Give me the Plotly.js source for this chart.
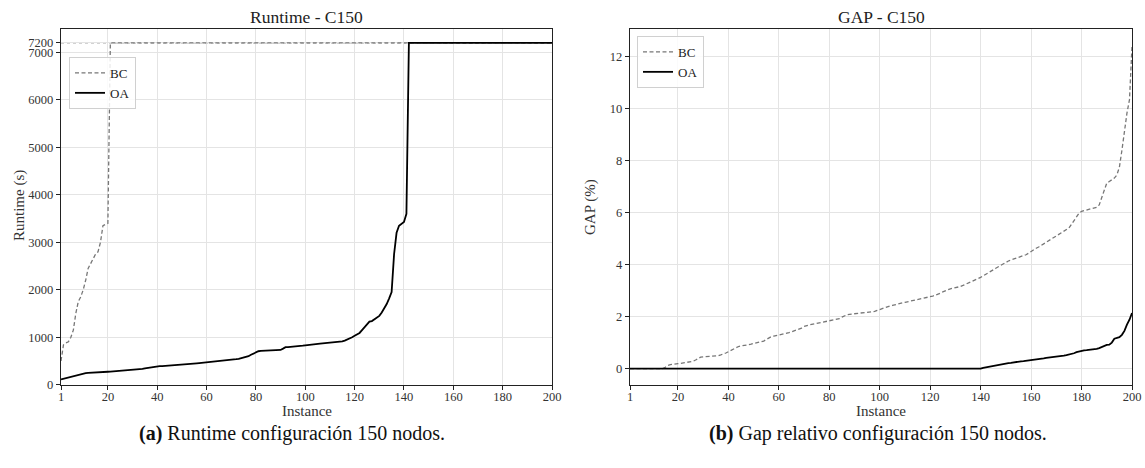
<!DOCTYPE html>
<html><head><meta charset="utf-8">
<script src="https://cdn.plot.ly/plotly-3.0.1.min.js"></script>
<style>html,body{margin:0;padding:0;background:#fff}</style>
</head><body><div id="chart" style="width:1145px;height:468px"></div>
<script>
// ---- data (instance 1..200) ----
const seriesNames = ['BC', 'OA'];
const xTickVals = [1, 20, 40, 60, 80, 100, 120, 140, 160, 180, 200];
const runtimeTickVals = [0, 1000, 2000, 3000, 4000, 5000, 6000, 7000, 7200];
const gapTickVals = [0, 2, 4, 6, 8, 10, 12];
const timeLimit = 7200;

const bcRuntime = [
500,840,880,905,1000,1150,1500,1750,1850,2000,
2200,2450,2550,2650,2750,2800,3000,3350,3380,3400,
7200,7200,7200,7200,7200,7200,7200,7200,7200,7200,
7200,7200,7200,7200,7200,7200,7200,7200,7200,7200,
7200,7200,7200,7200,7200,7200,7200,7200,7200,7200,
7200,7200,7200,7200,7200,7200,7200,7200,7200,7200,
7200,7200,7200,7200,7200,7200,7200,7200,7200,7200,
7200,7200,7200,7200,7200,7200,7200,7200,7200,7200,
7200,7200,7200,7200,7200,7200,7200,7200,7200,7200,
7200,7200,7200,7200,7200,7200,7200,7200,7200,7200,
7200,7200,7200,7200,7200,7200,7200,7200,7200,7200,
7200,7200,7200,7200,7200,7200,7200,7200,7200,7200,
7200,7200,7200,7200,7200,7200,7200,7200,7200,7200,
7200,7200,7200,7200,7200,7200,7200,7200,7200,7200,
7200,7200,7200,7200,7200,7200,7200,7200,7200,7200,
7200,7200,7200,7200,7200,7200,7200,7200,7200,7200,
7200,7200,7200,7200,7200,7200,7200,7200,7200,7200,
7200,7200,7200,7200,7200,7200,7200,7200,7200,7200,
7200,7200,7200,7200,7200,7200,7200,7200,7200,7200,
7200,7200,7200,7200,7200,7200,7200,7200,7200,7200];

const oaRuntime = [
110,125,140,155,170,185,200,215,228,240,
245,250,255,258,262,265,267,269,271,273,
276,280,285,288,291,294,297,300,303,306,
310,315,325,335,345,355,362,370,378,385,
390,393,396,398,400,403,406,410,415,420,
425,430,435,440,445,450,455,460,465,470,
473,476,479,483,488,493,500,507,515,523,
530,537,545,555,565,580,600,630,660,690,
705,712,716,718,720,722,724,726,728,732,
760,790,793,796,799,802,808,815,822,830,
838,845,850,855,860,865,870,875,880,885,
890,895,900,905,915,930,950,975,1000,1030,
1060,1090,1150,1210,1280,1330,1340,1380,1410,1450,
1520,1600,1700,1820,1950,2750,3200,3350,3390,3430,
3600,7200,7200,7200,7200,7200,7200,7200,7200,7200,
7200,7200,7200,7200,7200,7200,7200,7200,7200,7200,
7200,7200,7200,7200,7200,7200,7200,7200,7200,7200,
7200,7200,7200,7200,7200,7200,7200,7200,7200,7200,
7200,7200,7200,7200,7200,7200,7200,7200,7200,7200,
7200,7200,7200,7200,7200,7200,7200,7200,7200,7200];

const bcGap = [
0,0,0,0,0,0,0,0,0,0,
0,0,0,0,0.05,0.12,0.15,0.17,0.18,0.19,
0.2,0.22,0.23,0.24,0.26,0.28,0.33,0.4,0.44,0.45,
0.46,0.46,0.47,0.47,0.48,0.5,0.53,0.56,0.6,0.65,
0.7,0.77,0.83,0.85,0.87,0.88,0.9,0.92,0.94,0.96,
0.98,1.0,1.03,1.06,1.12,1.18,1.23,1.25,1.27,1.29,
1.3,1.32,1.35,1.38,1.41,1.44,1.47,1.5,1.56,1.62,
1.66,1.68,1.7,1.72,1.75,1.78,1.8,1.82,1.84,1.86,
1.87,1.88,1.9,1.92,1.98,2.04,2.07,2.09,2.1,2.11,
2.12,2.12,2.13,2.14,2.15,2.16,2.18,2.2,2.24,2.28,
2.32,2.35,2.38,2.41,2.43,2.46,2.49,2.51,2.53,2.55,
2.57,2.59,2.61,2.63,2.65,2.67,2.7,2.72,2.74,2.76,
2.79,2.82,2.85,2.9,2.95,3.0,3.04,3.07,3.09,3.11,
3.13,3.16,3.2,3.24,3.28,3.32,3.36,3.4,3.45,3.51,
3.57,3.62,3.68,3.74,3.8,3.86,3.92,3.98,4.04,4.1,
4.14,4.18,4.22,4.25,4.28,4.31,4.35,4.38,4.45,4.52,
4.58,4.63,4.68,4.74,4.8,4.86,4.92,4.98,5.04,5.1,
5.15,5.2,5.27,5.34,5.41,5.55,5.7,5.85,5.98,6.05,
6.08,6.1,6.12,6.15,6.18,6.21,6.3,6.56,6.9,7.14,
7.2,7.26,7.33,7.45,7.75,8.4,9.2,9.83,10.35,12.4];

const oaGap = [
0,0,0,0,0,0,0,0,0,0,
0,0,0,0,0,0,0,0,0,0,
0,0,0,0,0,0,0,0,0,0,
0,0,0,0,0,0,0,0,0,0,
0,0,0,0,0,0,0,0,0,0,
0,0,0,0,0,0,0,0,0,0,
0,0,0,0,0,0,0,0,0,0,
0,0,0,0,0,0,0,0,0,0,
0,0,0,0,0,0,0,0,0,0,
0,0,0,0,0,0,0,0,0,0,
0,0,0,0,0,0,0,0,0,0,
0,0,0,0,0,0,0,0,0,0,
0,0,0,0,0,0,0,0,0,0,
0,0,0,0,0,0,0,0,0,0,
0.03,0.05,0.06,0.08,0.09,0.11,0.13,0.16,0.18,0.2,
0.21,0.22,0.24,0.26,0.27,0.28,0.29,0.3,0.31,0.32,
0.33,0.34,0.36,0.37,0.39,0.41,0.42,0.43,0.44,0.45,
0.46,0.48,0.5,0.52,0.54,0.56,0.59,0.63,0.66,0.69,
0.7,0.71,0.72,0.73,0.75,0.76,0.79,0.84,0.89,0.91,
0.92,1.0,1.15,1.19,1.21,1.3,1.45,1.69,1.88,2.14];

const instances = bcRuntime.map((_, i) => i + 1);

// ---- styling ----
const FONT = 'Liberation Serif, DejaVu Serif, serif';
const bcLine = {color: '#777777', width: 1.3, dash: '4px,2.5px'};
const oaLine = {color: '#000000', width: 1.8};

const traces = [
  {x: instances, y: bcRuntime, name: seriesNames[0], type: 'scatter', mode: 'lines', line: bcLine, xaxis: 'x', yaxis: 'y', legend: 'legend'},
  {x: instances, y: oaRuntime, name: seriesNames[1], type: 'scatter', mode: 'lines', line: oaLine, xaxis: 'x', yaxis: 'y', legend: 'legend'},
  {x: instances, y: bcGap, name: seriesNames[0], type: 'scatter', mode: 'lines', line: bcLine, xaxis: 'x2', yaxis: 'y2', legend: 'legend2'},
  {x: instances, y: oaGap, name: seriesNames[1], type: 'scatter', mode: 'lines', line: oaLine, xaxis: 'x2', yaxis: 'y2', legend: 'legend2'}
];

const W = 1145, H = 468;
const yDom = [(H - 384.7) / H, (H - 28.7) / H];
const axisCommon = {
  showline: true, mirror: true, linecolor: '#222', linewidth: 1.2,
  ticks: 'outside', ticklen: 4, tickwidth: 1, tickcolor: '#222',
  showgrid: true, gridcolor: '#e4e4e4', gridwidth: 1, zeroline: false,
  tickfont: {family: FONT, size: 12.5, color: '#333'}
};
// x axes: tick marks drawn as minor ticks at the same values so labels sit closer to the axis
const xAxisExtra = {
  ticks: '', ticklen: 0,
  minor: {tickvals: xTickVals, ticks: 'outside', ticklen: 4, tickwidth: 1, tickcolor: '#222', showgrid: false}
};

const legendCommon = {
  bgcolor: 'rgba(255,255,255,0.85)', bordercolor: '#d0d0d0', borderwidth: 1,
  font: {family: FONT, size: 13, color: '#222'}, xanchor: 'left', yanchor: 'top',
  tracegroupgap: 0, itemwidth: 30
};

const ann = (text, x, y, size, extra) => Object.assign({
  text: text, xref: 'paper', yref: 'paper', x: x / W, y: (H - y) / H,
  xanchor: 'center', yanchor: 'middle', showarrow: false,
  font: {family: FONT, size: size, color: '#222'}
}, extra || {});

const layout = {
  width: W, height: H,
  margin: {l: 0, r: 0, t: 0, b: 0},
  paper_bgcolor: '#fff', plot_bgcolor: '#fff',
  font: {family: FONT, color: '#222'},
  showlegend: true,
  xaxis: Object.assign({}, axisCommon, xAxisExtra, {
    domain: [61 / W, 552 / W], range: [1, 200], tickvals: xTickVals, anchor: 'y'
  }),
  yaxis: Object.assign({}, axisCommon, {
    domain: yDom, range: [0, 7500], tickvals: runtimeTickVals, anchor: 'x'
  }),
  xaxis2: Object.assign({}, axisCommon, xAxisExtra, {
    domain: [630 / W, 1132 / W], range: [1, 200], tickvals: xTickVals, anchor: 'y2'
  }),
  yaxis2: Object.assign({}, axisCommon, {
    domain: yDom, range: [-0.62, 13.08], tickvals: gapTickVals, anchor: 'x2'
  }),
  legend: Object.assign({}, legendCommon, {x: 69 / W, y: (H - 57) / H}),
  legend2: Object.assign({}, legendCommon, {x: 637 / W, y: (H - 36) / H}),
  shapes: [
    {type: 'line', xref: 'x', yref: 'y', x0: 1, x1: 200, y0: timeLimit, y1: timeLimit,
     line: {color: '#999', width: 1, dash: 'dot'}, layer: 'below'}
  ],
  annotations: [
    ann('Runtime - C150', 306.5, 17, 17.5),
    ann('GAP - C150', 881, 17, 17.5),
    ann('Instance', 306.5, 411, 15, {font: {family: FONT, size: 15, color: '#333'}}),
    ann('Instance', 881, 411, 15, {font: {family: FONT, size: 15, color: '#333'}}),
    ann('Runtime (s)', 19, 206, 15, {textangle: -90, font: {family: FONT, size: 15, color: '#333'}}),
    ann('GAP (%)', 590, 207, 15, {textangle: -90, font: {family: FONT, size: 15, color: '#333'}}),
    ann('<b>(a)</b> Runtime configuración 150 nodos.', 292, 433, 20, {font: {family: FONT, size: 20, color: '#111'}}),
    ann('<b>(b)</b> Gap relativo configuración 150 nodos.', 878, 433, 20, {font: {family: FONT, size: 20, color: '#111'}})
  ]
};

Plotly.newPlot('chart', traces, layout, {staticPlot: true, displayModeBar: false});
</script></body></html>
